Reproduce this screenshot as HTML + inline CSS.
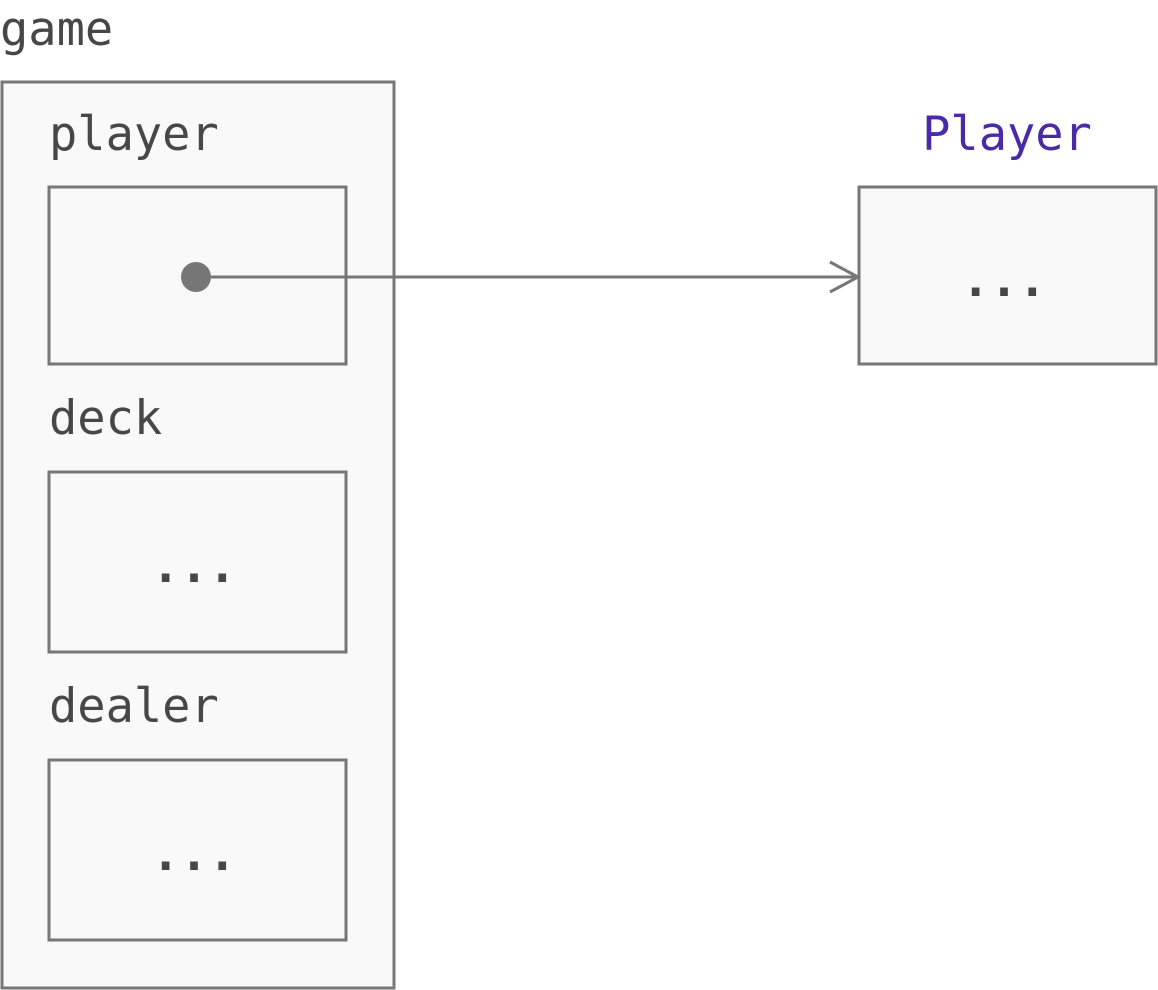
<!DOCTYPE html>
<html><head><meta charset="utf-8"><style>html,body{margin:0;padding:0;background:#fff}svg{display:block}</style></head>
<body>
<svg width="1158" height="990" viewBox="0 0 1158 990" xmlns="http://www.w3.org/2000/svg">
<g font-family="DejaVu Sans Mono, Liberation Mono, monospace" font-size="47" fill="#474747">
<text x="0" y="45">game</text>
<rect x="2" y="82" width="392" height="906" fill="#f9f9f9" stroke="#777" stroke-width="3"/>
<text x="49" y="150">player</text>
<rect x="49" y="187" width="297" height="177" fill="#f9f9f9" stroke="#777" stroke-width="3"/>
<text x="49" y="434">deck</text>
<rect x="49" y="472" width="297" height="180" fill="#f9f9f9" stroke="#777" stroke-width="3"/>
<text x="194" y="582" text-anchor="middle" font-weight="bold">...</text>
<text x="49" y="722">dealer</text>
<rect x="49" y="760" width="297" height="180" fill="#f9f9f9" stroke="#777" stroke-width="3"/>
<text x="194" y="870" text-anchor="middle" font-weight="bold">...</text>
<text x="1007" y="150" text-anchor="middle" fill="#4b2aa8">Player</text>
<rect x="859" y="187" width="297" height="177" fill="#f9f9f9" stroke="#777" stroke-width="3"/>
<text x="1004" y="296" text-anchor="middle" font-weight="bold">...</text>
</g>
<circle cx="196" cy="277" r="15" fill="#777"/>
<line x1="196" y1="277" x2="857" y2="277" stroke="#777" stroke-width="3"/>
<polyline points="830,262 858,277 830,292" fill="none" stroke="#777" stroke-width="3"/>
</svg>
</body></html>
